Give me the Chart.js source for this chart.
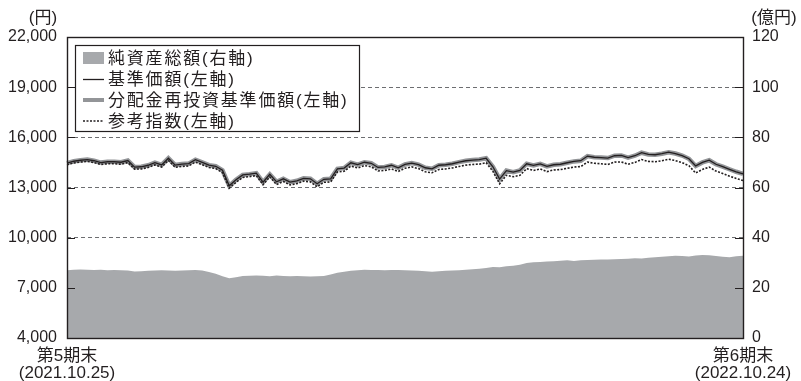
<!DOCTYPE html>
<html lang="ja">
<head>
<meta charset="utf-8">
<script src="https://cdn.jsdelivr.net/npm/chart.js@4.4.0/dist/chart.umd.min.js"></script>
<style>
  body { margin: 0; background: #fff; }
  #wrap { width: 801px; height: 381px; }
</style>
</head>
<body>
<div id="wrap"><canvas id="chart" width="801" height="381"></canvas></div>
<script>
  // 基準価額 (円), roughly every 2-3 business days
  const navValues = [
    14460, 14570, 14630, 14670, 14600, 14490, 14540, 14540, 14510, 14610,
    14220, 14240, 14330, 14480, 14350, 14750, 14340, 14400, 14430, 14660,
    14500, 14340, 14270, 14030, 13100, 13460, 13750, 13800, 13860, 13320,
    13790, 13340, 13520, 13320, 13400, 13550, 13520, 13220, 13490, 13520,
    14120, 14160, 14480, 14370, 14510, 14450, 14200, 14230, 14330, 14180,
    14380, 14460, 14370, 14180, 14120, 14330, 14360, 14420, 14520, 14600,
    14640, 14670, 14750, 14240, 13500, 14010, 13920, 14020, 14420, 14320,
    14410, 14260, 14360, 14390, 14480, 14560, 14600, 14880, 14810, 14790,
    14760, 14900, 14920, 14790, 14900, 15080, 14980, 14960, 15020, 15110,
    15030, 14910, 14720, 14290, 14500, 14630, 14390, 14250, 14090, 13940,
    13820
  ];

  // 分配金再投資基準価額 (円) – no distribution in the period, same as above
  const reinvestValues = [
    14460, 14570, 14630, 14670, 14600, 14490, 14540, 14540, 14510, 14610,
    14220, 14240, 14330, 14480, 14350, 14750, 14340, 14400, 14430, 14660,
    14500, 14340, 14270, 14030, 13100, 13460, 13750, 13800, 13860, 13320,
    13790, 13340, 13520, 13320, 13400, 13550, 13520, 13220, 13490, 13520,
    14120, 14160, 14480, 14370, 14510, 14450, 14200, 14230, 14330, 14180,
    14380, 14460, 14370, 14180, 14120, 14330, 14360, 14420, 14520, 14600,
    14640, 14670, 14750, 14240, 13500, 14010, 13920, 14020, 14420, 14320,
    14410, 14260, 14360, 14390, 14480, 14560, 14600, 14880, 14810, 14790,
    14760, 14900, 14920, 14790, 14900, 15080, 14980, 14960, 15020, 15110,
    15030, 14910, 14720, 14290, 14500, 14630, 14390, 14250, 14090, 13940,
    13820
  ];

  // 参考指数 (円)
  const benchValues = [
    14360, 14470, 14520, 14560, 14490, 14380, 14420, 14420, 14390, 14490,
    14100, 14110, 14200, 14350, 14220, 14620, 14210, 14260, 14290, 14520,
    14360, 14200, 14130, 13890, 12960, 13310, 13600, 13650, 13710, 13170,
    13630, 13180, 13360, 13150, 13230, 13380, 13340, 13040, 13310, 13330,
    13930, 13970, 14280, 14170, 14310, 14240, 13990, 14020, 14110, 13960,
    14150, 14230, 14130, 13940, 13880, 14080, 14110, 14170, 14260, 14340,
    14380, 14400, 14480, 13970, 13220, 13730, 13640, 13730, 14130, 14020,
    14110, 13950, 14050, 14070, 14150, 14220, 14250, 14520, 14450, 14420,
    14380, 14520, 14530, 14390, 14500, 14670, 14560, 14540, 14600, 14690,
    14610, 14490, 14300, 13870, 14080, 14220, 13980, 13840, 13680, 13540,
    13420
  ];

  // 純資産総額 (億円)
  const assetValues = [
    27.0, 27.2, 27.3, 27.2, 27.1, 27.2, 27.0, 27.1, 27.0, 26.9,
    26.5, 26.6, 26.8, 26.9, 27.0, 26.9, 26.8, 26.9, 27.0, 27.1,
    26.9, 26.3, 25.6, 24.6, 23.8, 24.2, 24.7, 24.8, 24.9, 24.8,
    24.6, 24.9, 24.7, 24.6, 24.7, 24.6, 24.5, 24.6, 24.7, 25.3,
    26.0, 26.4, 26.8, 27.0, 27.2, 27.1, 27.1, 27.0, 27.1, 27.1,
    27.0, 26.9, 26.8, 26.6, 26.4, 26.6, 26.8, 26.9, 27.0, 27.2,
    27.4, 27.6, 27.9, 28.3, 28.2, 28.6, 28.8, 29.2, 29.9, 30.2,
    30.3, 30.5, 30.6, 30.8, 31.0, 30.7, 31.0, 31.1, 31.2, 31.3,
    31.3, 31.4, 31.5, 31.6, 31.8, 31.7, 32.0, 32.2, 32.4, 32.6,
    32.8, 32.7, 32.5, 32.9, 33.1, 33.0, 32.7, 32.4, 32.2, 32.6,
    32.8
  ];

  const startLabel = ['第5期末', '(2021.10.25)'];
  const endLabel = ['第6期末', '(2022.10.24)'];
  const legendNames = ['純資産総額(右軸)', '基準価額(左軸)', '分配金再投資基準価額(左軸)', '参考指数(左軸)'];
  const leftUnit = '(円)';
  const rightUnit = '(億円)';

  const labels = navValues.map((v, i) => i);
  const lastIdx = labels.length - 1;

  const FONT = '"Liberation Sans", "Noto Sans CJK JP", sans-serif';
  const INK = '#231f20';

  // frame, inward ticks, unit captions and the boxed legend
  const decor = {
    id: 'decor',
    afterDatasetsDraw(chart) {
      const ctx = chart.ctx;
      const a = chart.chartArea;
      const yl = chart.scales.y;
      const yr = chart.scales.y2;
      ctx.save();
      ctx.strokeStyle = INK;
      ctx.lineWidth = 1.2;
      ctx.setLineDash([]);
      ctx.beginPath();
      yl.ticks.forEach(t => {
        const y = Math.round(yl.getPixelForValue(t.value)) + 0.5;
        ctx.moveTo(a.left, y);
        ctx.lineTo(a.left + 8, y);
      });
      yr.ticks.forEach(t => {
        const y = Math.round(yr.getPixelForValue(t.value)) + 0.5;
        ctx.moveTo(a.right - 8, y);
        ctx.lineTo(a.right, y);
      });
      ctx.stroke();
      ctx.lineWidth = 1.4;
      ctx.strokeRect(Math.round(a.left) + 0.5, Math.round(a.top) + 0.5,
        Math.round(a.right - a.left), Math.round(a.bottom - a.top));

      // unit captions
      ctx.fillStyle = INK;
      ctx.font = '17px ' + FONT;
      ctx.textBaseline = 'middle';
      ctx.textAlign = 'center';
      ctx.fillText(leftUnit, 43, 18);
      ctx.fillText(rightUnit, 774, 18);

      // legend
      const lx = 75, ly = 45, lw = 284, lh = 86;
      ctx.fillStyle = '#fff';
      ctx.fillRect(lx, ly, lw, lh);
      ctx.lineWidth = 1.2;
      ctx.strokeStyle = INK;
      ctx.strokeRect(lx + 0.5, ly + 0.5, lw, lh);
      const rows = [58, 79, 100, 121];
      const ds = chart.data.datasets;
      // swatch: area
      ctx.fillStyle = ds[0].backgroundColor;
      ctx.fillRect(83, rows[0] - 6, 21, 12);
      // thin line
      ctx.strokeStyle = ds[1].borderColor;
      ctx.lineWidth = 1.3;
      ctx.beginPath(); ctx.moveTo(83, rows[1] + 0.5); ctx.lineTo(104, rows[1] + 0.5); ctx.stroke();
      // thick gray line
      ctx.strokeStyle = ds[2].borderColor;
      ctx.lineWidth = 4;
      ctx.beginPath(); ctx.moveTo(83, rows[2]); ctx.lineTo(104, rows[2]); ctx.stroke();
      // dotted line
      ctx.strokeStyle = ds[3].borderColor;
      ctx.lineWidth = 1.6;
      ctx.setLineDash([2, 1.5]);
      ctx.beginPath(); ctx.moveTo(83, rows[3]); ctx.lineTo(104, rows[3]); ctx.stroke();
      ctx.setLineDash([]);
      ctx.fillStyle = INK;
      ctx.font = '17px ' + FONT;
      ctx.textAlign = 'left';
      if ('letterSpacing' in ctx) ctx.letterSpacing = '1.8px';
      legendNames.forEach((n, i) => ctx.fillText(n, 108, rows[i] + 1));
      ctx.restore();
    }
  };

  const config = {
    type: 'line',
    data: {
      labels: labels,
      datasets: [
        {
          label: legendNames[0],
          data: assetValues,
          yAxisID: 'y2',
          backgroundColor: '#a7a9ac',
          borderWidth: 0,
          fill: 'origin',
          pointRadius: 0,
          order: 4
        },
        {
          label: legendNames[1],
          data: navValues,
          yAxisID: 'y',
          borderColor: INK,
          borderWidth: 1.3,
          fill: false,
          pointRadius: 0,
          order: 1
        },
        {
          label: legendNames[2],
          data: reinvestValues,
          yAxisID: 'y',
          borderColor: '#939598',
          borderWidth: 4.5,
          fill: false,
          pointRadius: 0,
          order: 3
        },
        {
          label: legendNames[3],
          data: benchValues,
          yAxisID: 'y',
          borderColor: INK,
          borderWidth: 1.6,
          borderDash: [2, 1.5],
          fill: false,
          pointRadius: 0,
          order: 2
        }
      ]
    },
    options: {
      responsive: false,
      animation: false,
      layout: { padding: { top: 37, left: 0, right: 0, bottom: 0 } },
      plugins: { legend: { display: false }, tooltip: { enabled: false } },
      scales: {
        x: {
          type: 'category',
          offset: false,
          grid: { display: false },
          border: { display: false },
          afterFit: s => { s.height = 43; },
          ticks: {
            autoSkip: false,
            maxRotation: 0,
            padding: 2,
            color: INK,
            font: { family: FONT, size: 17, lineHeight: 1.0 },
            callback: (v, i) => i === 0 ? startLabel : (i === lastIdx ? endLabel : null)
          }
        },
        y: {
          position: 'left',
          min: 4000,
          max: 22000,
          afterFit: s => { s.width = 67; },
          grid: { color: '#6d6e71', lineWidth: 1, drawTicks: false },
          border: { display: false, dash: [4, 3] },
          ticks: {
            stepSize: 3000,
            padding: 10,
            color: INK,
            font: { family: FONT, size: 16 },
            callback: v => v.toLocaleString('en-US')
          }
        },
        y2: {
          position: 'right',
          min: 0,
          max: 120,
          afterFit: s => { s.width = 58; },
          grid: { display: false, drawTicks: false },
          border: { display: false },
          ticks: {
            stepSize: 20,
            padding: 9,
            color: INK,
            font: { family: FONT, size: 16 }
          }
        }
      }
    },
    plugins: [decor]
  };

  const myChart = new Chart(document.getElementById('chart'), config);
</script>
</body>
</html>
